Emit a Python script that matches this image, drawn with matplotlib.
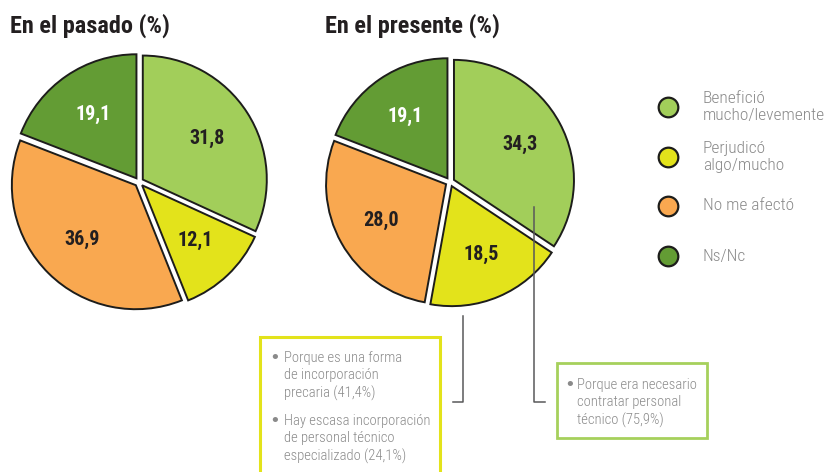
import matplotlib
matplotlib.use('Agg')
import matplotlib.pyplot as plt
from matplotlib import font_manager as fm
from matplotlib.patches import Rectangle

# ---------------- data ----------------
categories = ["Benefició\nmucho/levemente", "Perjudicó\nalgo/mucho", "No me afectó", "Ns/Nc"]
pasado = [31.8, 12.1, 36.9, 19.1]
presente = [34.3, 18.5, 28.0, 19.1]
titles = ["En el pasado (%)", "En el presente (%)"]
reasons_perjudico = ["Porque es una forma\nde incorporación\nprecaria (41,4%)",
                     "Hay escasa incorporación\nde personal técnico\nespecializado (24,1%)"]
reasons_beneficio = ["Porque era necesario\ncontratar personal\ntécnico (75,9%)"]

colors = ['#a2ce5a', '#e3e31b', '#f9a850', '#639c34']
label_colors = ['#231f20', '#231f20', '#231f20', '#ffffff']

# ---------------- fonts ----------------
names = {f.name for f in fm.fontManager.ttflist}
FAM = None
for cand in ['Roboto Condensed', 'Archivo Narrow', 'Liberation Sans Narrow', 'Asap Condensed']:
    if cand in names:
        FAM = cand
        break
if FAM is None:
    COND = dict(family='DejaVu Sans', stretch='condensed')
else:
    COND = dict(family=FAM)

W, H = 825, 472
fig = plt.figure(figsize=(8.25, 4.72), dpi=100)
ax = fig.add_axes([0, 0, 1, 1])


def Y(y):
    return H - y


def fmt(v):
    return f"{v:.1f}".replace('.', ',')


pies = [(pasado, (139, 182), 124, titles[0], 10),
        (presente, (450, 182), 120, titles[1], 325)]

for vals, (cx, cy), R, title, tx in pies:
    wedges, texts = ax.pie(vals, colors=colors, startangle=90, counterclock=False,
                           explode=[4.5] * len(vals), radius=R, center=(cx, Y(cy)),
                           labels=[fmt(v) for v in vals], labeldistance=0.62,
                           wedgeprops=dict(edgecolor='#1d1d1b', linewidth=1.4))
    for t, c in zip(texts, label_colors):
        t.set_fontproperties(fm.FontProperties(weight='heavy', size=14.5, **COND))
        t.set_ha('center')
        t.set_va('center')
        t.set_color(c)
    ax.text(tx, Y(33), title, fontsize=17.5, fontweight='black', color='#231f20',
            va='baseline', ha='left', **COND)

# ---------------- legend ----------------
leg_y = [107, 157, 206, 256]
for c, lab, ly in zip(colors, categories, leg_y):
    ax.scatter([668], [Y(ly)], s=200, color=c, edgecolor='#1d1d1b', linewidth=1.6, zorder=3)
    ax.text(703, Y(ly), lab, fontsize=12.5, color='#8a8a8a', va='center', ha='left',
            fontweight='light', linespacing=1.2, **COND)

# ---------------- callouts ----------------
gray_line = '#58585a'
ax.plot([463, 463, 453], [Y(316), Y(402), Y(402)], color=gray_line, lw=1.1)
ax.plot([534, 534, 545], [Y(207), Y(402), Y(402)], color=gray_line, lw=1.1)

ax.add_patch(Rectangle((260, Y(490)), 180, 490 - 337, fill=False,
                       edgecolor='#e3e31b', linewidth=2.2))
ax.add_patch(Rectangle((557, Y(438)), 150, 438 - 363, fill=False,
                       edgecolor='#a6d05c', linewidth=2.0))

txt_col = '#8a8a8a'
for item, yc, yfirst in zip(reasons_perjudico, [376, 439], [358, 421]):
    ax.text(275, Y(yfirst), '•', fontsize=13, color=txt_col, va='center', ha='center',
            family='DejaVu Sans')
    ax.text(284, Y(yc), item, fontsize=10.5, color=txt_col, va='center', ha='left',
            fontweight='light', linespacing=1.32, **COND)
for item, yc, yfirst in zip(reasons_beneficio, [403], [385]):
    ax.text(570, Y(yfirst), '•', fontsize=13, color=txt_col, va='center', ha='center',
            family='DejaVu Sans')
    ax.text(577, Y(yc), item, fontsize=10.5, color=txt_col, va='center', ha='left',
            fontweight='light', linespacing=1.32, **COND)

ax.set_xlim(0, W)
ax.set_ylim(0, H)
ax.set_aspect('auto')
ax.axis('off')
fig.savefig('out.png', dpi=100, facecolor='white')
